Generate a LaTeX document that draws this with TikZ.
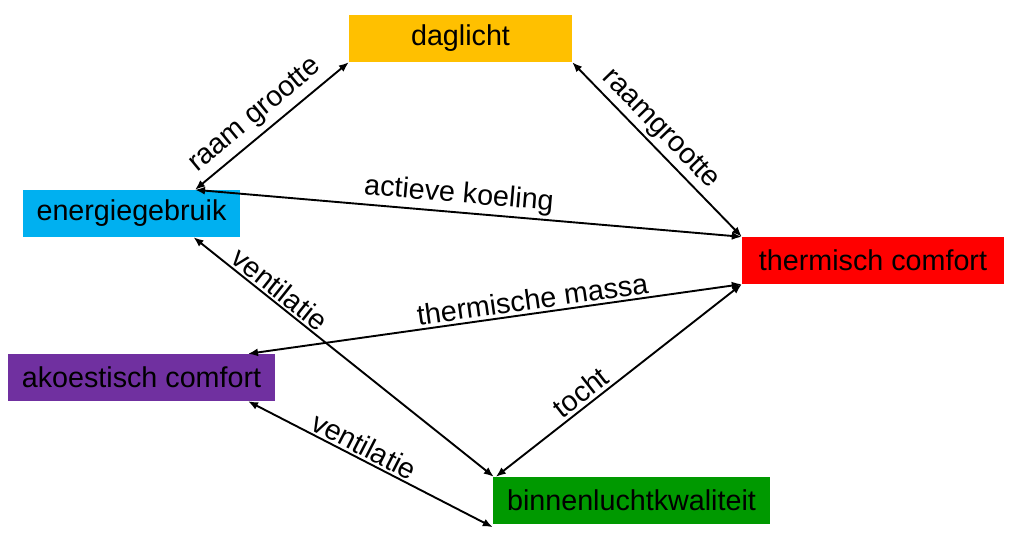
\documentclass[tikz,border=0pt]{standalone}
\usepackage{fontspec}
\setmainfont{Liberation Sans}
\usetikzlibrary{arrows.meta}
\definecolor{cyel}{RGB}{255,192,0}
\definecolor{cblu}{RGB}{0,176,240}
\definecolor{cred}{RGB}{255,0,0}
\definecolor{cpur}{RGB}{112,48,160}
\definecolor{cgrn}{RGB}{0,153,0}
\begin{document}
\begin{tikzpicture}[x=1pt,y=-1pt,
  box/.style={rectangle, inner sep=0pt, minimum height=47pt, font=\fontsize{28.7}{34}\selectfont},
  link/.style={{Latex[length=10pt,width=8pt]}-{Latex[length=10pt,width=8pt]}, line width=1.9pt, black},
  lab/.style={sloped, above, inner sep=3pt, font=\fontsize{28.7}{34}\selectfont}]
\useasboundingbox (0,0) rectangle (1019,540);
\node[box, fill=cyel, minimum width=223pt] (dag) at (460.5,38.5) {daglicht};
\node[box, fill=cblu, minimum width=217pt] (en) at (131.5,213.5) {energiegebruik};
\node[box, fill=cred, minimum width=262pt] (th) at (873,260.5) {thermisch comfort};
\node[box, fill=cpur, minimum width=267pt] (ak) at (141.5,377.5) {akoestisch comfort};
\node[box, fill=cgrn, minimum width=277pt] (bi) at (631.5,500.5) {binnenluchtkwaliteit};
% connectors
\draw[link] ([xshift=63.5pt]en.north) -- node[lab, pos=0.47, inner sep=5pt] {raam grootte} (dag.south west);
\draw[link] (dag.south east) -- node[lab, pos=0.45] {raamgrootte} (th.north west);
\draw[link] ([xshift=63.5pt]en.north) -- node[lab, pos=0.48] {actieve koeling} (th.north west);
\draw[link] ([xshift=62pt]en.south) -- node[lab, pos=0.26, inner sep=2pt] {ventilatie} ([xshift=1pt]bi.north west);
\draw[link] ([xshift=106.5pt]ak.north) -- node[lab, pos=0.58] {thermische massa} (th.south west);
\draw[link] ([xshift=3pt]bi.north west) -- node[lab, pos=0.38] {tocht} (th.south west);
\draw[link] ([xshift=106.5pt]ak.south) -- node[lab, pos=0.45, inner sep=2pt] {ventilatie} ([yshift=-3pt]bi.south west);
\end{tikzpicture}
\end{document}
